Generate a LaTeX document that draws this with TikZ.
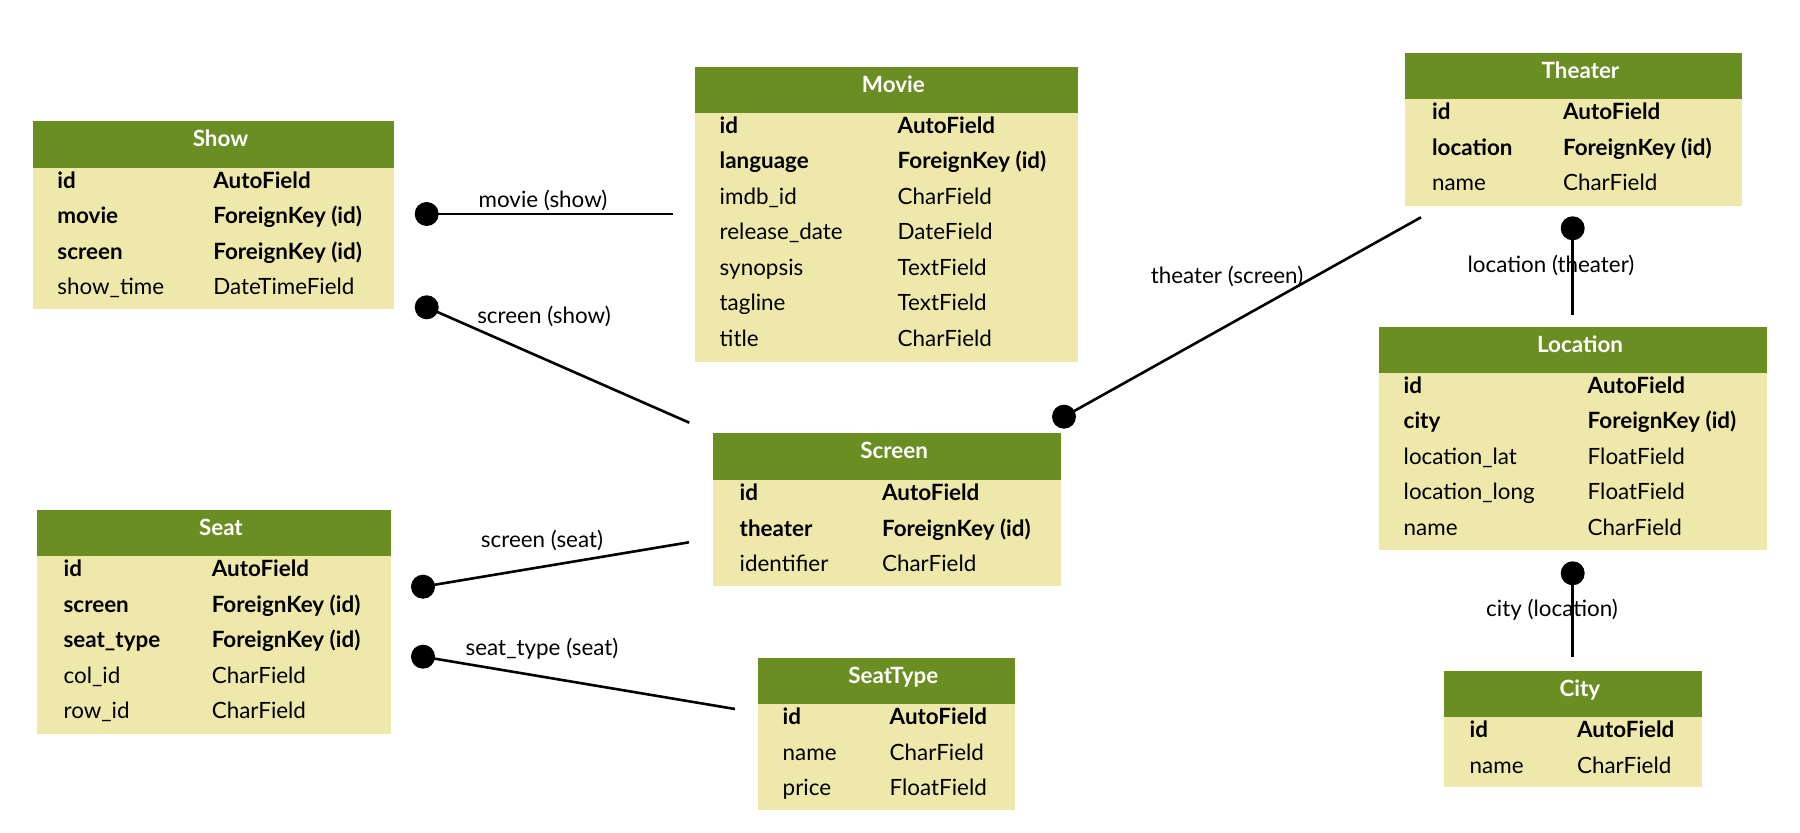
\documentclass[tikz,border=0pt]{standalone}
\usepackage{fontspec}
\setmainfont{Lato}
\usetikzlibrary{fit}
\definecolor{hdrc}{RGB}{107,142,35}
\definecolor{bdyc}{RGB}{238,232,170}
\tikzset{
  hdr/.style={draw=none,fill=hdrc,inner sep=0pt,rectangle},
  bdy/.style={draw=none,fill=bdyc,inner sep=0pt,rectangle},
  ttl/.style={text=white,inner sep=0pt,anchor=base,font=\fontsize{11.2}{13}\selectfont\bfseries},
  fr/.style={inner sep=0pt,anchor=base west,font=\fontsize{11.2}{13}\selectfont},
  fb/.style={inner sep=0pt,anchor=base west,font=\fontsize{11.2}{13}\selectfont\bfseries},
  lbl/.style={inner sep=0pt,anchor=center,font=\fontsize{11.2}{13}\selectfont},
  dot/.style={circle,fill=black,draw=none,minimum size=12pt,inner sep=0pt},
  conn/.style={line width=1.3pt,draw=black},
}
\newcommand{\ertbl}[7]{% name, xl, xr, ytop, yhb, ybot, title
  \node[hdr, fit={(#2,#4) (#3,#5)}] (#1-h) {};
  \node[bdy, fit={(#2,#5) (#3,#6)}] (#1-b) {};
  \node[ttl] (#1-t) at ({(#2+#3)/2+7},{#4+25.5}) {#7};
}
\newcommand{\erfields}[5]{% name, x1, x2, yhb, list
  \foreach \w/\f/\t [count=\i from 0] in {#5} {
    \node[\w] (#1-f\i) at (#2,{#4+20.7+35.5*\i}) {\f};
    \node[\w] (#1-y\i) at (#3,{#4+20.7+35.5*\i}) {\t};
  }
}
\begin{document}
\begin{tikzpicture}[x=0.5pt,y=-0.5pt]
\useasboundingbox (0,0) rectangle (1800,833);
% Show
\ertbl{show}{33}{394}{120.7}{167.7}{308.7}{Show}
\erfields{show}{57}{213}{167.7}{fb/id/AutoField, fb/movie/{ForeignKey (id)}, fb/screen/{ForeignKey (id)}, fr/show\_time/DateTimeField}
% Movie
\ertbl{movie}{695}{1077.7}{66.7}{112.7}{361.7}{Movie}
\erfields{movie}{719.3}{897.3}{112.7}{fb/id/AutoField, fb/language/{ForeignKey (id)}, fr/imdb\_id/CharField, fr/release\_date/DateField, fr/synopsis/TextField, fr/tagline/TextField, fr/title/CharField}
% Theater
\ertbl{theater}{1405}{1742}{53.3}{99.3}{205.7}{Theater}
\erfields{theater}{1431.7}{1562.7}{99.3}{fb/id/AutoField, fb/location/{ForeignKey (id)}, fr/name/CharField}
% Location
\ertbl{location}{1379}{1767}{326.7}{372.7}{550}{Location}
\erfields{location}{1403.3}{1587.3}{372.7}{fb/id/AutoField, fb/city/{ForeignKey (id)}, fr/location\_lat/FloatField, fr/location\_long/FloatField, fr/name/CharField}
% Screen
\ertbl{screen}{713.3}{1061}{433.3}{480}{585.7}{Screen}
\erfields{screen}{739.3}{881.7}{480}{fb/id/AutoField, fb/theater/{ForeignKey (id)}, fr/identifier/CharField}
% Seat
\ertbl{seat}{37.3}{390.5}{510}{556}{734}{Seat}
\erfields{seat}{63.2}{211.4}{556}{fb/id/AutoField, fb/screen/{ForeignKey (id)}, fb/seat\_type/{ForeignKey (id)}, fr/col\_id/CharField, fr/row\_id/CharField}
% SeatType
\ertbl{seattype}{757.7}{1015}{657.7}{704}{810}{SeatType}
\erfields{seattype}{782.3}{889.3}{704}{fb/id/AutoField, fr/name/CharField, fr/price/FloatField}
% City
\ertbl{city}{1444}{1701.7}{670.7}{717.3}{787.3}{City}
\erfields{city}{1469.3}{1576.7}{717.3}{fb/id/AutoField, fr/name/CharField}
% connector labels
\node[lbl] (l1) at (543,200.7) {movie (show)};
\node[lbl] (l2) at (544,316.7) {screen (show)};
\node[lbl] (l3) at (1227,276.7) {theater (screen)};
\node[lbl] (l4) at (1551,265) {location (theater)};
\node[lbl] (l5) at (542,540) {screen (seat)};
\node[lbl] (l6) at (542,649) {seat\_type (seat)};
\node[lbl] (l7) at (1552,610) {city (location)};
% connectors
\node[dot] (d1) at (426.7,214) {};
\coordinate (e1) at (672.7,214);
\draw[conn] (d1.center) -- (e1);
\node[dot] (d2) at (426.7,307.3) {};
\coordinate (e2) at (689.3,422.7);
\draw[conn] (d2.center) -- (e2);
\node[dot] (d3) at (1064,416.7) {};
\coordinate (e3) at (1421,217.3);
\draw[conn] (d3.center) -- (e3);
\node[dot] (d4) at (1572.7,228.3) {};
\coordinate (e4) at (1572.7,315);
\draw[conn] (d4.center) -- (e4);
\node[dot] (d5) at (423,586.7) {};
\coordinate (e5) at (689,542.3);
\draw[conn] (d5.center) -- (e5);
\node[dot] (d6) at (423,656.7) {};
\coordinate (e6) at (735,709);
\draw[conn] (d6.center) -- (e6);
\node[dot] (d7) at (1572.7,573.3) {};
\coordinate (e7) at (1572.7,657.3);
\draw[conn] (d7.center) -- (e7);
\end{tikzpicture}
\end{document}
